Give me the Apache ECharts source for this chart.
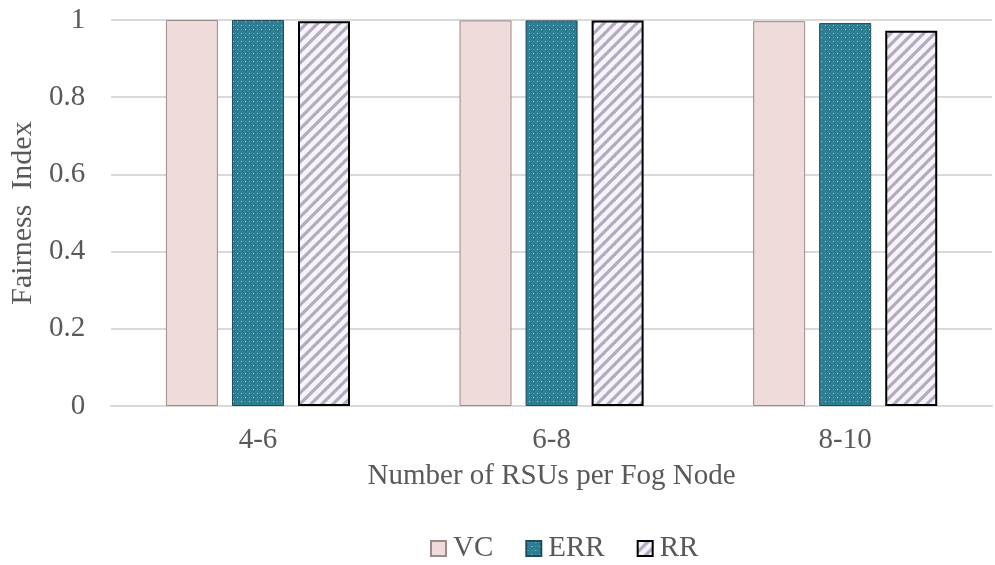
<!DOCTYPE html>
<html>
<head>
<meta charset="utf-8">
<script src="https://cdn.jsdelivr.net/npm/echarts@6/dist/echarts.min.js"></script>
<style>html,body{margin:0;padding:0;background:#fff}#c{width:995px;height:565px}</style>
</head>
<body>
<div id="c"></div>
<script>
const categories = ['4-6', '6-8', '8-10'];
const seriesNames = ['VC', 'ERR', 'RR'];
const vcValues = [1.0, 0.999, 0.997];
const errValues = [1.0, 0.999, 0.992];
const rrValues = [0.997, 0.999, 0.972];
const yTicks = [0, 0.2, 0.4, 0.6, 0.8, 1];

function dotPattern() {
  const c = document.createElement('canvas');
  c.width = 8; c.height = 8;
  const g = c.getContext('2d');
  g.fillStyle = '#2d7d93';
  g.fillRect(0, 0, 8, 8);
  g.fillStyle = '#8fd6e4';
  g.fillRect(1, 1, 1, 1);
  g.fillRect(5, 5, 1, 1);
  g.fillStyle = '#4a9bb0';
  g.fillRect(5, 1, 1, 1);
  g.fillRect(1, 5, 1, 1);
  return c;
}
function stripePattern() {
  const c = document.createElement('canvas');
  c.width = 11; c.height = 11;
  const g = c.getContext('2d');
  g.fillStyle = '#f8f4fc';
  g.fillRect(0, 0, 11, 11);
  g.strokeStyle = '#b3abbf';
  g.lineWidth = 3.2;
  for (let k = -2; k <= 2; k++) {
    g.beginPath();
    g.moveTo(k * 11 - 5, 16);
    g.lineTo(k * 11 + 16, -5);
    g.stroke();
  }
  return c;
}
const errFill = { image: dotPattern(), repeat: 'repeat' };
const rrFill = { image: stripePattern(), repeat: 'repeat' };

const font = '"Liberation Serif", "Times New Roman", serif';
const txt = '#595959';
const chart = echarts.init(document.getElementById('c'));
chart.setOption({
  animation: false,
  textStyle: { fontFamily: font },
  grid: { left: 107, right: 3, top: 20, bottom: 159, containLabel: false },
  legend: {
    bottom: -3, left: 425,
    icon: 'rect',
    itemWidth: 15, itemHeight: 15, itemGap: 32,
    textStyle: { fontFamily: font, fontSize: 29, color: txt, padding: [0, 0, 0, 2] },
    data: seriesNames
  },
  xAxis: {
    type: 'category', data: categories,
    axisLine: { lineStyle: { color: '#d9d9d9', width: 2 } },
    axisTick: { show: false },
    axisLabel: { fontFamily: font, fontSize: 29, color: txt, margin: 20 },
    name: 'Number of RSUs per Fog Node', nameLocation: 'middle', nameGap: 56,
    nameTextStyle: { fontFamily: font, fontSize: 29, color: txt }
  },
  yAxis: {
    type: 'value', min: 0, max: 1, interval: 0.2,
    axisLine: { show: false }, axisTick: { show: false },
    splitLine: { lineStyle: { color: '#d9d9d9', width: 2 } },
    axisLabel: { fontFamily: font, fontSize: 29, color: txt, margin: 26,
      formatter: v => { const t = yTicks.find(x => Math.abs(x - v) < 1e-9); return t === undefined ? '' : String(t); } },
    name: 'Fairness  Index', nameLocation: 'middle', nameGap: 72,
    nameTextStyle: { fontFamily: font, fontSize: 30, color: txt }
  },
  series: [
    { name: 'VC', type: 'bar', data: vcValues, barWidth: 52, barGap: '27%',
      itemStyle: { color: '#f0dbdb', borderColor: '#9a8a8a', borderWidth: 1 } },
    { name: 'ERR', type: 'bar', data: errValues, barWidth: 52,
      itemStyle: { color: errFill, borderColor: '#1f4a5a', borderWidth: 1 } },
    { name: 'RR', type: 'bar', data: rrValues, barWidth: 52,
      itemStyle: { color: rrFill, borderColor: '#000000', borderWidth: 2 } }
  ]
});
</script>
</body>
</html>
